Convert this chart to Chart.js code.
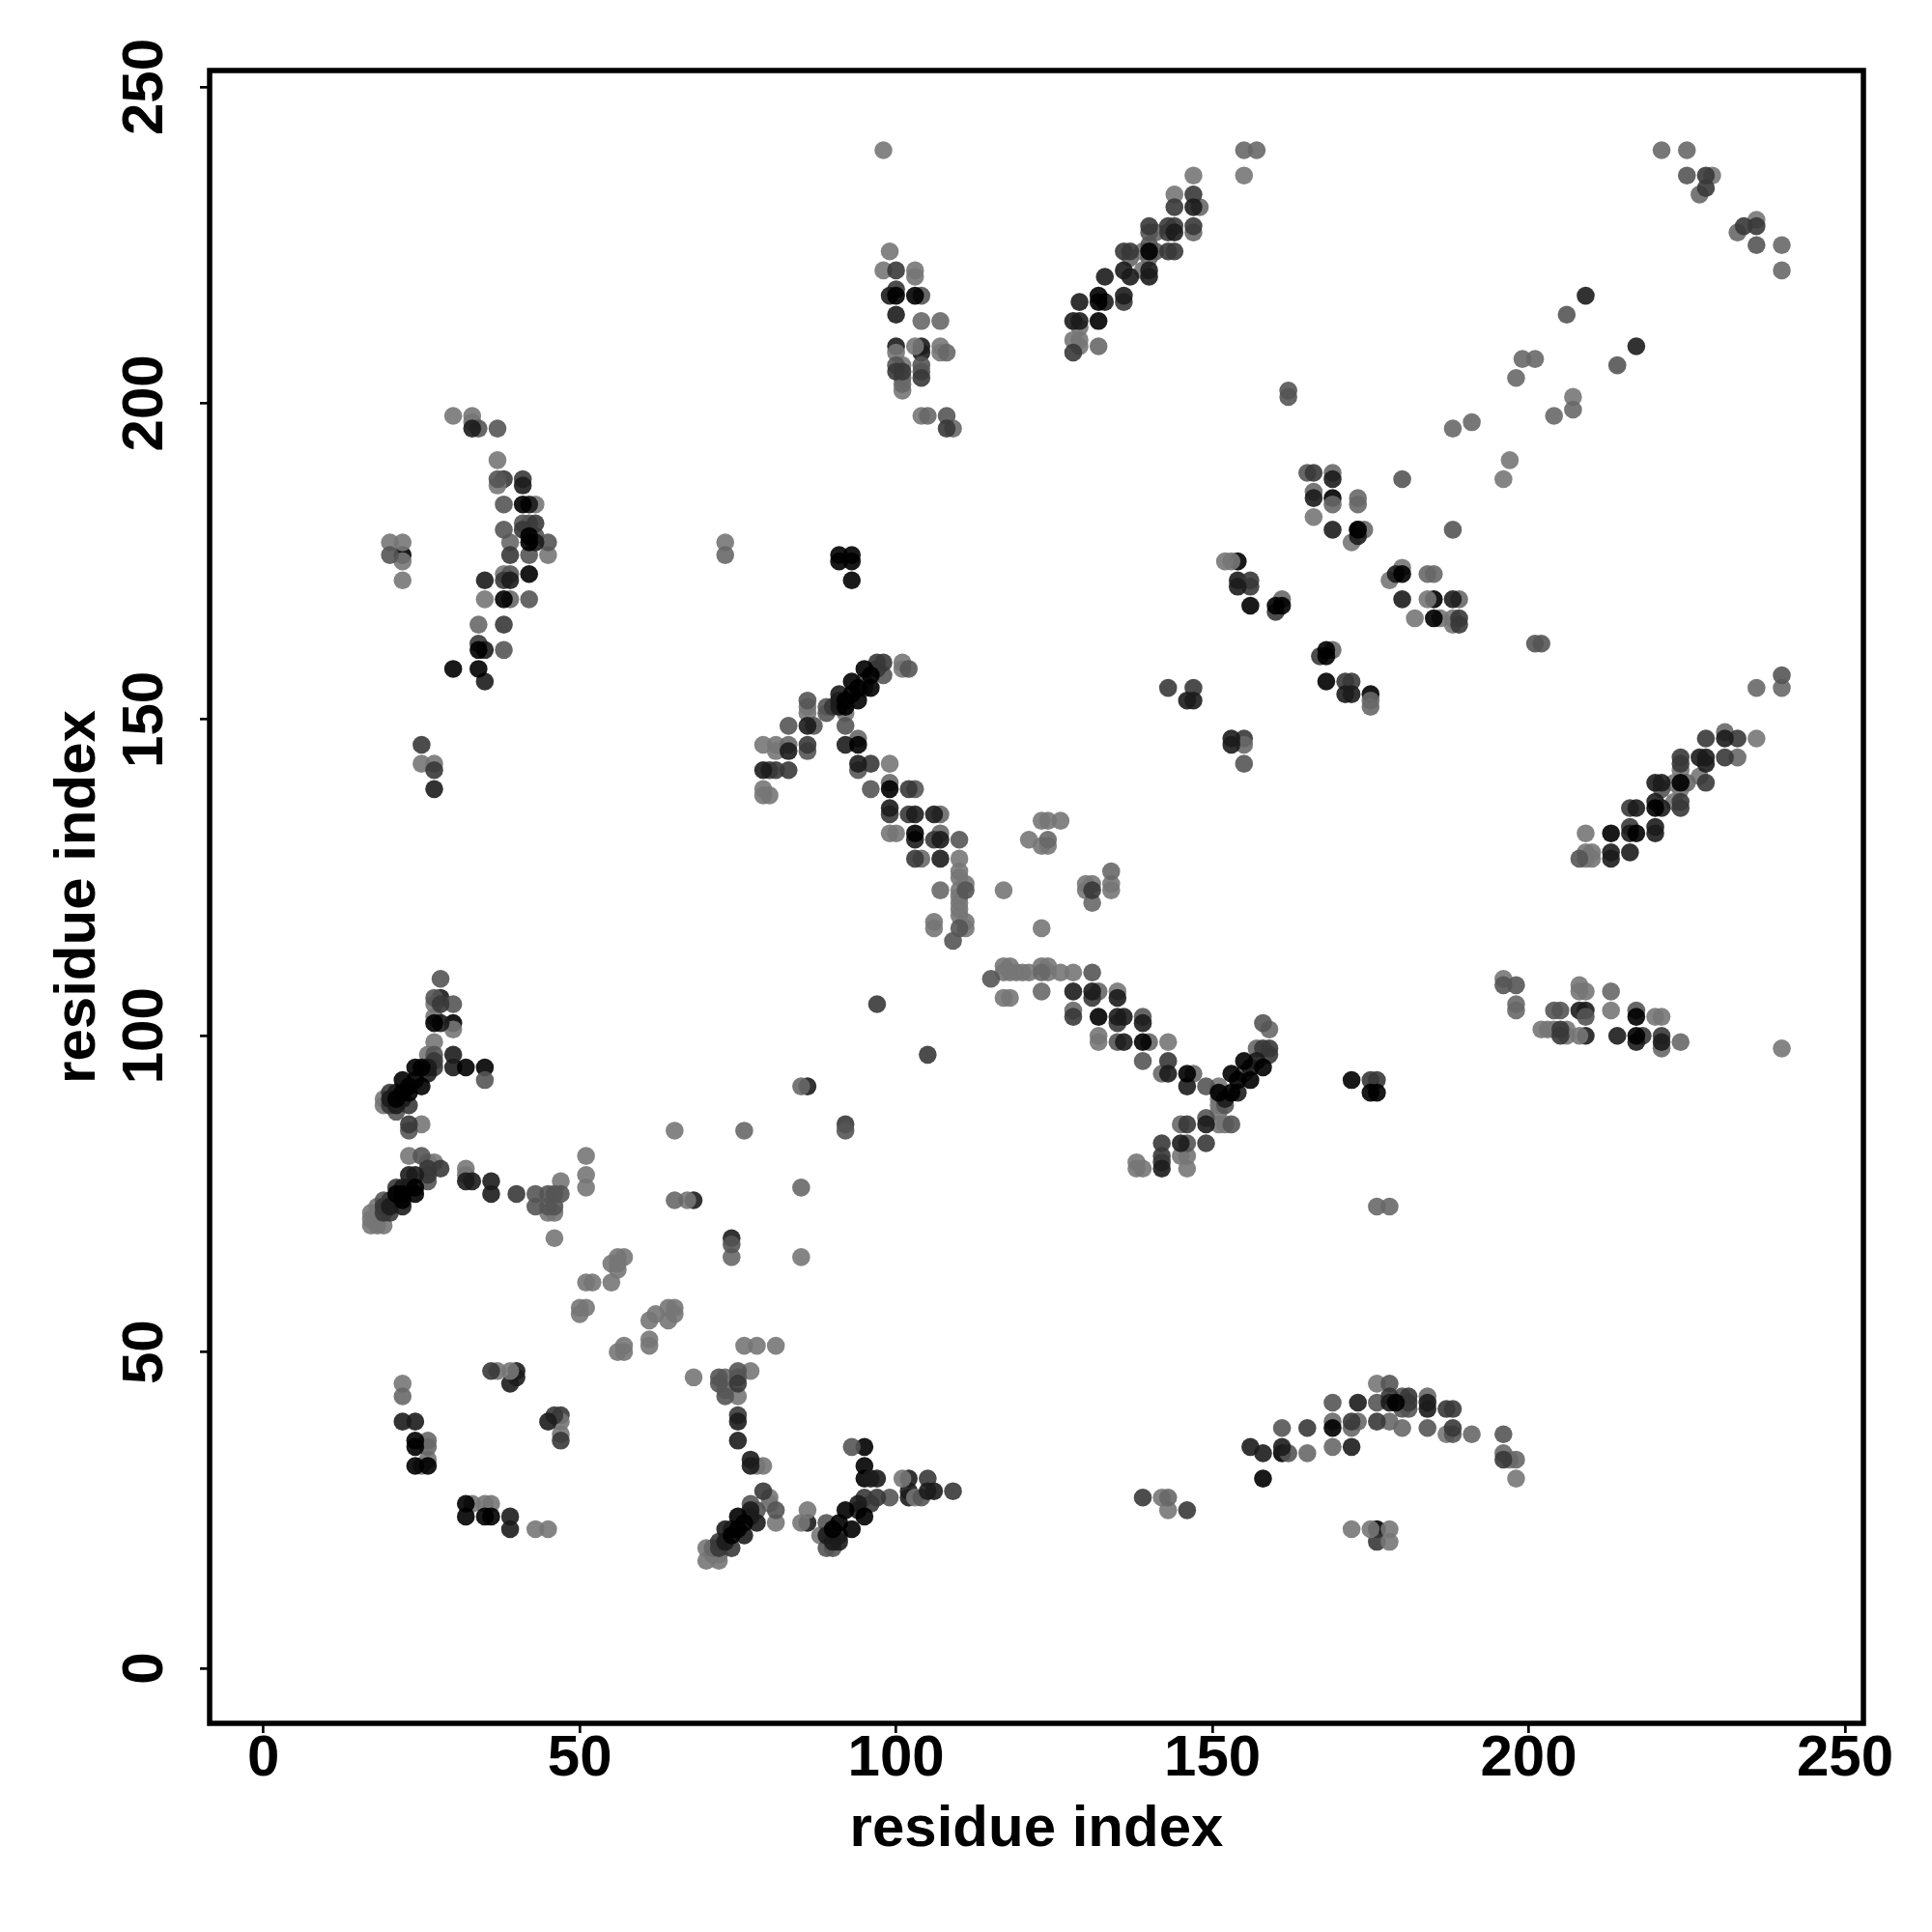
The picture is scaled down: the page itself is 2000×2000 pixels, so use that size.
<!DOCTYPE html>
<html lang="en">
<head>
<meta charset="UTF-8">
<title>Residue contact map</title>
<script src="https://cdn.jsdelivr.net/npm/chart.js"></script>
<style>
  body { margin: 0; background: #fff; }
  canvas { display: block; }
</style>
</head>
<body>
<canvas id="contactMap" width="2000" height="2000"></canvas>
<script>
// [residue i, residue j] contacts, one list per shade
const contactsBlack = [[41,184],[42,179],[42,178],[38,169],[34,161],[42,173],[30,158],[34,158],
  [27,102],[24,95],[25,95],[22,93],[24,93],[25,92],[23,92],[22,91],[23,91],[21,90],[24,76],[24,75],[22,75],[21,75],[22,74],[32,95],
  [75,24],[76,23],[75,22],[74,21],[92,25],[91,23],[90,22],[93,22],[95,24],[24,36],[24,35],[24,32],[26,32],[32,26],[32,24],[35,24],[36,24],
  [95,158],[96,157],[93,156],[96,155],[94,155],[93,154],[94,153],[92,153],[92,152],[94,146],[99,139],[103,132],
  [132,103],[139,99],[146,94],[151,91],[153,91],[153,94],[154,93],[155,96],[156,93],[158,95],[175,91],[176,91],
  [100,217],[103,217],[132,217],[132,216],[132,213],[140,224],
  [173,180],[168,161],[168,160],[160,168],[161,168],[180,173],[185,166],[224,140],
  [213,132],[217,132],[220,136],[217,103],[217,100],[169,38],[179,42],[158,30]];
const contactsDark = [[33,196],[41,187],[42,184],[43,178],[39,172],[35,172],[35,161],[35,156],[27,139],
  [26,95],[26,94],[21,91],[20,90],[22,90],[21,89],[28,102],[30,97],[30,95],
  [23,78],[24,78],[22,76],[23,76],[20,73],[22,73],[32,77],[33,77],[36,75],
  [75,39],[75,36],[77,33],[77,32],[77,25],[77,24],[78,23],[74,22],[73,22],[76,21],[73,20],[94,26],[94,25],[91,21],[89,21],[90,20],[91,20],[22,39],[24,39],[39,24],[39,22],[45,39],[105,28],[106,28],
  [91,154],[91,153],[91,152],[92,146],[94,143],[79,142],[83,145],[86,149],[131,107],[99,136],[103,135],[103,131],[106,135],[107,131],[107,128],[146,153],[147,153],
  [128,107],[135,106],[135,103],[136,103],[139,102],[136,99],[143,94],[146,92],[152,90],[154,91],[157,96],[156,95],[149,86],[142,79],[145,83],
  [99,217],[129,216],[133,216],[128,213],[129,213],[136,217],[133,220],[136,221],[137,220],[140,221],[140,220],[144,227],[147,231],
  [166,185],[169,188],[169,180],[173,179],[154,171],[179,173],[180,169],[188,169],[153,147],[153,146],[171,154],[172,154],
  [231,147],[227,144],[228,144],[228,143],[220,140],[221,140],[220,137],[221,136],[220,133],[220,132],[216,132],[213,129],[213,128],[216,129],[217,136],
  [217,99],[221,99],[156,35],[158,34],[161,35],[178,42],[184,42],[184,41],[173,42]];
const contactsMid = [[41,188],[43,181],[41,180],[39,176],[38,172],[38,165],[34,162],[25,146],[27,142],
  [28,105],[20,91],[19,73],[20,74],[21,76],[19,72],[20,72],[23,89],[20,89],[23,86],[26,79],[26,78],[28,79],[27,96],[27,95],[40,75],
  [75,45],[75,40],[72,20],[72,19],[74,19],[46,40],[47,36],[36,47],[95,27],[97,27],[96,26],[79,28],[105,30],[109,28],
  [97,159],[98,159],[97,158],[90,152],[86,146],[80,142],[81,142],[83,142],[96,143],[102,139],[99,135],[102,135],[106,131],[103,128],[131,123],
  [131,106],[128,103],[135,102],[143,96],[146,86],[142,83],[142,81],[142,80],[149,83],[158,98],[159,98],[159,97],
  [100,221],[100,218],[136,216],[104,204],[100,205],[101,205],[108,196],[128,208],[136,224],[137,224],[143,224],[144,224],[143,228],[144,228],[143,227],[140,228],[144,231],[147,233],[147,228],
  [166,189],[171,156],[172,156],[167,160],[160,167],[156,172],[156,171],[189,166],[189,165],
  [228,236],[228,234],[234,228],[236,228],[233,147],[224,144],[224,143],[216,136],[216,133],[228,147],[231,144],[224,136],[224,137],[228,140],
  [205,101],[205,100],[221,100],[218,100],[146,25],[165,38],[172,39],[176,39],[178,43],[181,43],[181,42],[187,41],[188,41],[188,38],[196,33]];
const contactsGrey = [[34,196],[37,196],[37,188],[38,184],[38,180],[41,181],[42,181],[43,179],[45,178],[20,176],[42,176],[39,173],[42,169],[38,161],
  [27,106],[27,97],[30,105],[28,109],[19,74],[21,88],[23,85],[25,81],[26,77],[45,75],[46,75],[47,75],[43,73],[45,73],[46,73],[74,67],[43,75],
  [35,93],[72,46],[73,43],[75,47],[75,46],[77,26],[78,25],[81,25],[89,19],[90,19],[89,23],[99,27],[93,35],[72,45],[104,27],
  [86,153],[83,149],[87,149],[92,149],[86,145],[89,152],[89,151],[95,156],[95,155],[98,157],[102,158],[96,139],[94,142],[103,139],[110,131],[110,117],[111,123],[109,115],
  [131,110],[115,109],[139,103],[135,99],[139,96],[149,92],[149,87],[153,86],[155,94],[152,89],[158,102],[146,83],
  [104,217],[104,206],[104,205],[100,206],[108,198],[140,227],[141,224],[140,225],
  [165,189],[180,188],[188,180],[201,162],[202,162],[155,143],[225,236],[236,225],[206,214],[214,206],
  [196,108],[198,108],[204,104],[205,104],[208,128],[209,103],[221,139],[240,157],[217,104],[162,202],[162,201],[92,85],
  [161,38],[162,34],[169,42],[176,42],[178,45],[180,43],[181,41],[180,41],[184,38],[188,37],[196,37]];
const contactsPale = [[39,178],[73,176],[39,169],[34,165],[76,85],[85,92],[65,74],[85,76],[74,65],
  [73,46],[73,44],[22,43],[26,35],[26,36],[71,19],[94,147],[83,146],[99,140],[104,128],[107,123],
  [107,132],[107,135],[124,131],[131,121],[134,126],[123,110],[123,107],[132,107],[128,104],[140,99],[142,94],[147,94],[159,101],[157,98],
  [145,86],[105,198],[101,204],[101,203],[108,208],[107,213],[132,209],[137,223],[141,227],[147,227],[148,231],[109,196],[140,223],[104,213],
  [169,189],[169,184],[166,186],[173,185],[173,184],[174,180],[161,169],[184,173],[185,173],[189,169],[169,161],[175,153],[175,152],[155,146],
  [155,240],[157,240],[221,240],[225,240],[227,233],[233,227],[240,225],[240,221],[199,207],[201,207],[198,204],[204,198],[207,199],[188,196],[191,197],
  [225,140],[231,148],[233,144],[236,155],[240,155],[198,105],[198,104],[213,107],[221,98],[224,99],
  [165,34],[169,39],[169,35],[173,39],[178,39],[180,38],[184,43],[191,37],[196,34],[198,33],[172,38],[143,27],[176,73],[178,73]];
const contactsLight = [[30,198],[33,198],[33,197],[37,191],[37,187],[43,184],[20,178],[22,178],[45,176],[22,175],[22,172],[73,178],[38,173],[35,169],[25,143],[27,143],
  [27,105],[27,103],[30,101],[27,99],[26,97],[19,90],[19,89],[25,86],[23,81],[26,80],[27,80],[17,72],[18,73],[17,71],[18,72],[17,70],[18,70],[19,70],[32,79],[32,78],
  [47,77],[45,72],[46,72],[46,68],[51,81],[51,78],[51,76],[65,85],[67,74],[85,65],[56,65],[57,65],[56,64],[55,64],[56,63],[55,61],[51,61],[52,61],
  [50,56],[50,57],[51,57],[61,55],[62,56],[64,55],[64,57],[65,57],[65,56],[57,51],[57,50],[56,50],[61,52],[61,51],[76,51],[78,51],[81,51],[68,46],[77,47],[75,43],[78,32],[79,32],[80,27],[80,26],[81,23],
  [70,19],[72,18],[71,18],[70,17],[72,17],[86,25],[85,23],[88,21],[22,45],[26,33],[33,26],[35,26],[36,26],[25,32],[43,22],[45,22],[37,47],[39,47],[47,39],[47,37],[101,30],[103,27],
  [101,159],[101,158],[92,151],[86,152],[86,151],[79,146],[81,146],[81,145],[99,143],[79,139],[79,138],[80,138],[99,132],[100,132],[110,128],[110,126],[110,125],[111,124],[110,123],[110,122],[110,121],[110,120],[110,119],[111,118],[111,117],[106,118],[106,117],[117,123],
  [123,134],[124,134],[126,134],[121,131],[123,130],[124,130],[134,124],[134,123],[130,124],[130,123],[131,124],[123,117],
  [117,111],[118,111],[117,110],[118,110],[119,110],[120,110],[121,110],[123,111],[124,111],[124,110],[126,110],[128,110],[117,106],[118,106],[135,107],[132,100],[132,99],[143,99],
  [151,92],[151,90],[151,89],[151,88],[151,86],[152,86],[145,81],[146,81],[138,80],[138,79],[139,79],[146,79],
  [98,240],[99,224],[98,221],[103,221],[103,220],[100,208],[103,209],[107,209],[107,208],[101,206],[101,202],[104,198],[128,210],[129,210],[129,209],[129,212],[139,221],[139,224],[147,236],[144,233],
  [152,175],[153,175],[166,182],[172,178],[178,172],[180,174],[182,166],[184,169],[186,166],[188,166],[188,165],[196,188],[197,191],[155,236],[229,236],[236,229],[207,201],
  [236,147],[224,142],[227,141],[223,140],[224,139],[223,137],[209,132],[209,129],[210,129],[209,128],[210,128],[196,109],[208,108],[209,107],[208,107],[202,101],[203,101],[204,101],[206,101],[206,100],[208,100],[220,103],[221,103],[213,104],[240,98],
  [142,27],[143,25],[176,45],[187,37],[197,33],[198,30],[172,22],[175,22],[178,22],[178,20]];
// shades that sit on top of the paler points around them
const topBlack = [[22,176],[35,95],[30,102],[175,154],[168,156],[172,93],[95,35],[95,32],[95,30],[176,22],[185,169],[169,185],[154,175],[91,176],[93,176],[91,175],[93,175],[93,172],[156,168],[161,34],[173,180]];
const topDark = [[28,106],[36,77],[86,23],[97,30],[96,30],[102,30],[102,28],[102,27],[40,47],[40,46],[39,45],[68,74],[86,92],[74,68],[100,214],[104,209],[104,208],[100,209],[209,104],[208,104],[209,100],[214,100],[154,172],[209,217],[217,209],[172,35]];
const topMid = [[38,188],[47,40],[155,147],[147,155],[176,93],[175,93],[92,86],[105,97],[97,105],[139,27],[143,155],[176,20]];

const tickValues = [0, 50, 100, 150, 200, 250];
const axisTitle = 'residue index';
const axisFont = { family: '"Liberation Sans", Arial, sans-serif', size: 60, weight: 'bold' };

// each list drawn in this order, grey level painted at 90% opacity
const layers = [
  [contactsBlack, 0], [contactsDark, 28], [contactsMid, 57], [contactsGrey, 85], [contactsPale, 104],
  [contactsLight, 119], [topMid, 57], [topDark, 28], [topBlack, 0]
];

const boxPlugin = {
  id: 'box',
  afterDraw(chart) {
    const { ctx, chartArea: a } = chart;
    ctx.save();
    ctx.strokeStyle = '#000';
    ctx.lineWidth = 5.5;
    ctx.strokeRect(a.left, a.top, a.right - a.left, a.bottom - a.top);
    ctx.restore();
  }
};

function setTicks(scale) {
  scale.ticks = tickValues.map(v => ({ value: v }));
}

new Chart(document.getElementById('contactMap'), {
  type: 'scatter',
  data: {
    datasets: layers.map(([points, g]) => ({
      data: points.map(p => ({ x: p[0], y: p[1] })),
      backgroundColor: `rgba(${g},${g},${g},0.9)`,
      borderWidth: 0,
      pointRadius: 9.3
    }))
  },
  options: {
    responsive: false,
    animation: false,
    layout: { padding: { top: 73, right: 71, left: 0, bottom: 0 } },
    plugins: { legend: { display: false }, tooltip: { enabled: false } },
    scales: {
      x: {
        min: -8.5,
        max: 252.9,
        afterBuildTicks: setTicks,
        afterFit(scale) { scale.height = 216; },
        grid: { drawOnChartArea: false, color: '#000', lineWidth: 2.7, tickLength: 10 },
        border: { display: false },
        ticks: { color: '#000', font: axisFont, padding: -9, maxRotation: 0, autoSkip: false },
        title: { display: true, text: axisTitle, color: '#000', font: axisFont, padding: { top: 0, bottom: 70 } }
      },
      y: {
        min: -8.7,
        max: 252.6,
        afterBuildTicks: setTicks,
        afterFit(scale) { scale.width = 217; },
        grid: { drawOnChartArea: false, color: '#000', lineWidth: 2.7, tickLength: 10 },
        border: { display: false },
        ticks: { color: '#000', font: axisFont, padding: 5, minRotation: 90, maxRotation: 90, crossAlign: 'center', autoSkip: false },
        title: { display: true, text: axisTitle, color: '#000', font: axisFont, padding: { top: 45, bottom: 0 } }
      }
    }
  },
  plugins: [boxPlugin]
});
</script>
</body>
</html>
